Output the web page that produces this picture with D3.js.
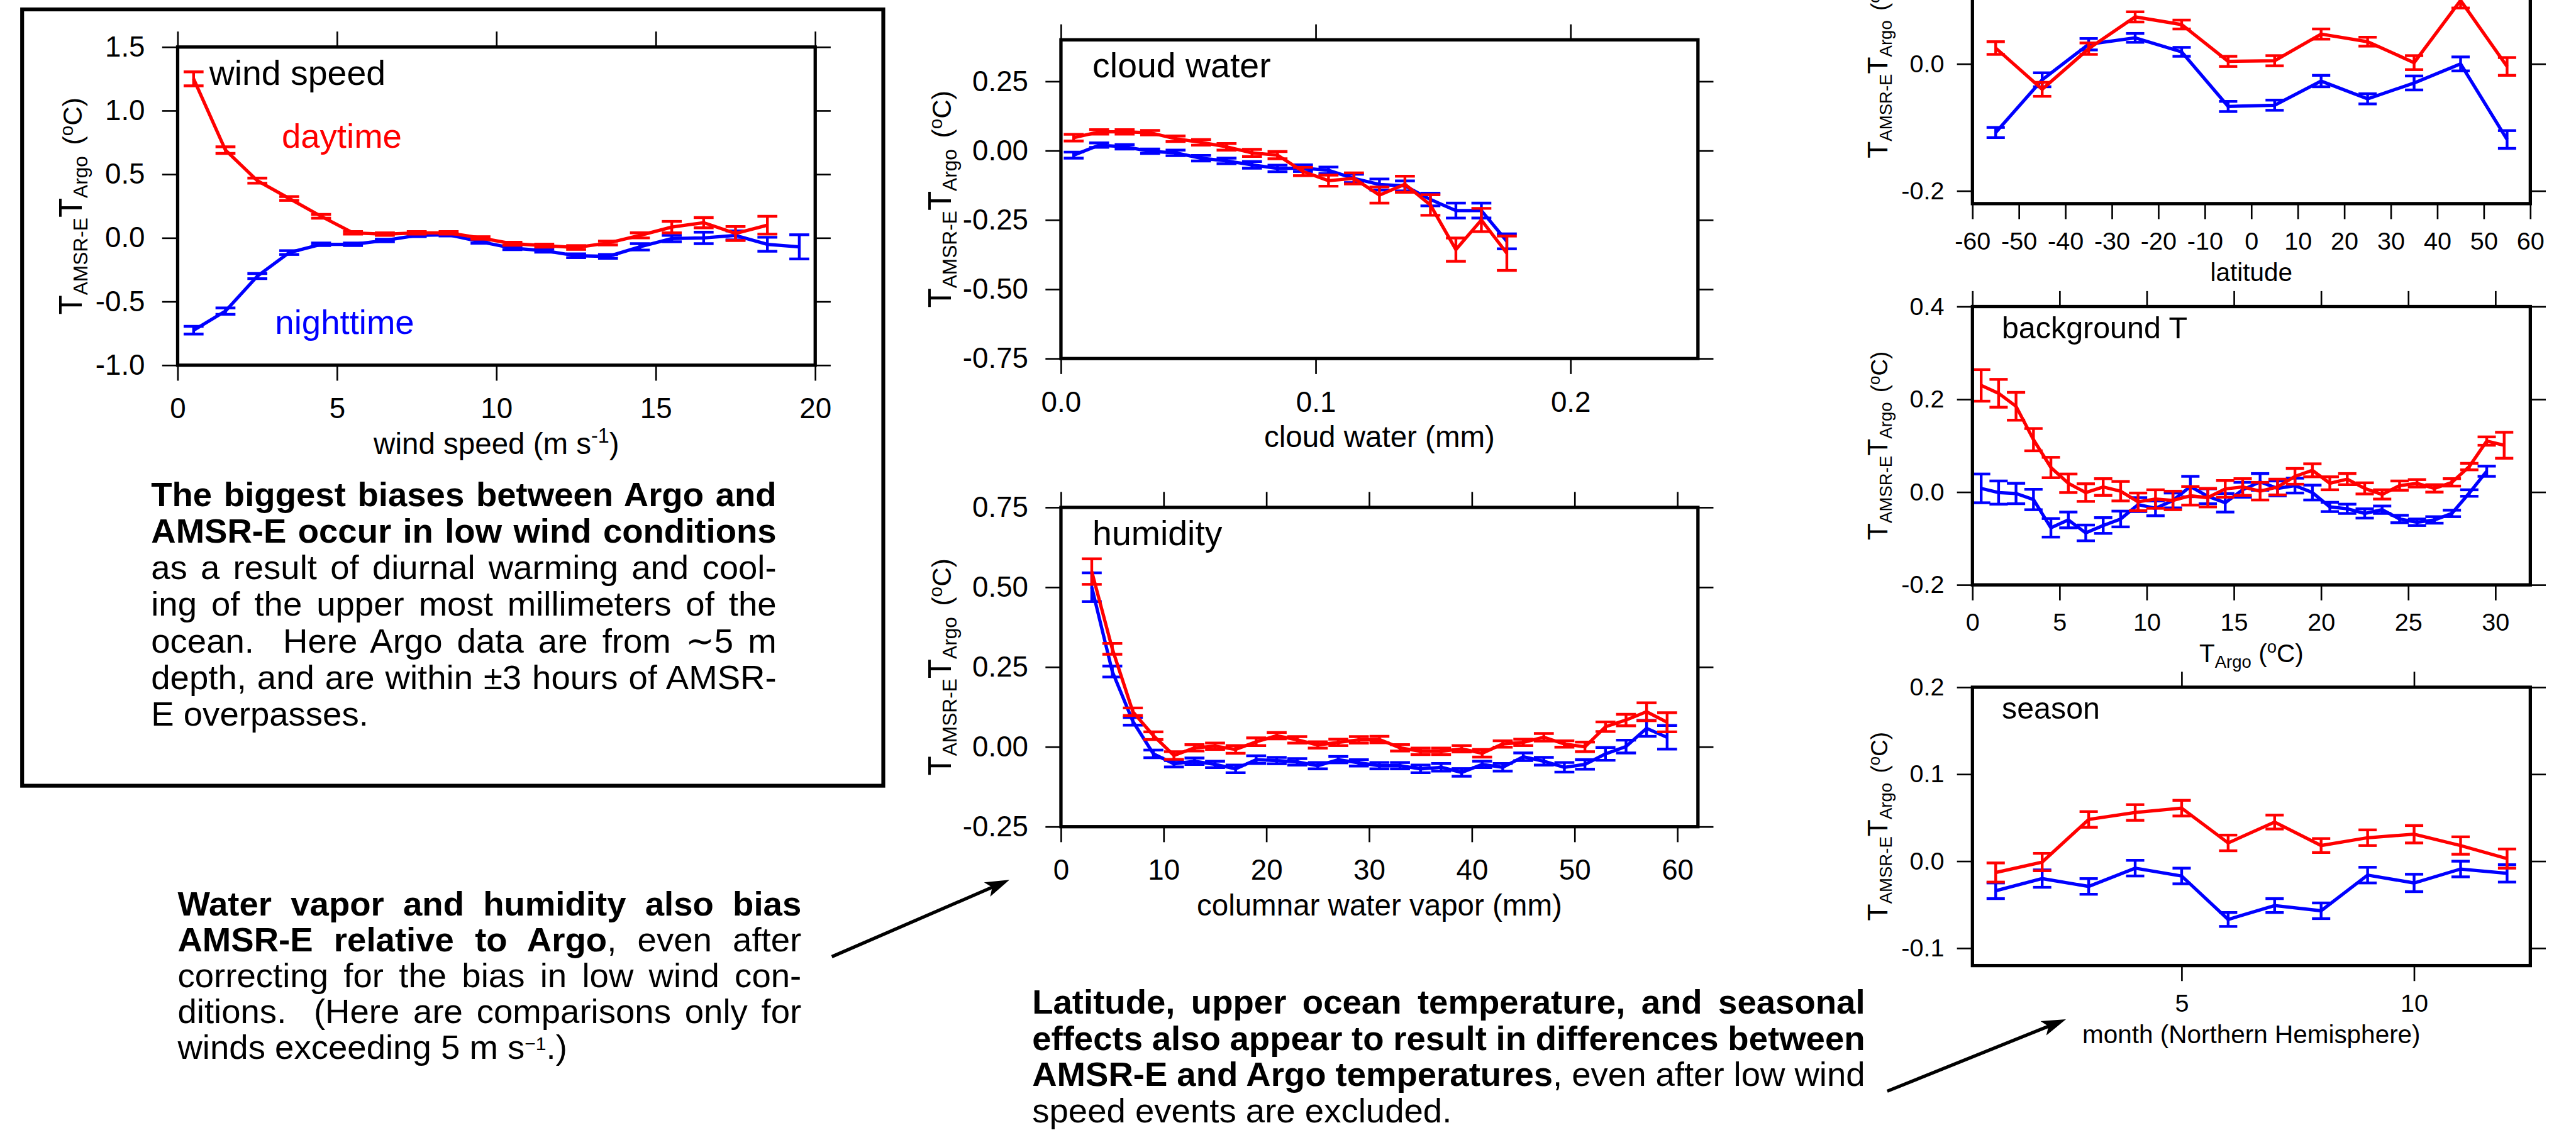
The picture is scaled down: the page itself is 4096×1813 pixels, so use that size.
<!DOCTYPE html>
<html>
<head>
<meta charset="utf-8">
<script src="https://cdn.jsdelivr.net/npm/d3@7"></script>
<style>
    body { margin: 0; background: #ffffff; }
    svg { display: block; font-family: "Liberation Sans", Arial, Helvetica, sans-serif; }
    text { white-space: pre; }
</style>
</head>
<body>
<div id="chart"></div>
<script>

// ---------- data ----------

// wind speed panel
let windX = [0.5, 1.5, 2.5, 3.5, 4.5, 5.5, 6.5, 7.5, 8.5, 9.5, 10.5, 11.5, 12.5, 13.5, 14.5, 15.5, 16.5, 17.5, 18.5, 19.5];
let windDay = [1.25, 0.69, 0.45, 0.31, 0.17, 0.04, 0.03, 0.04, 0.04, 0.0, -0.045, -0.06, -0.075, -0.04, 0.02, 0.085, 0.12, 0.035, 0.1];
let windDayErr = [0.055, 0.026, 0.02, 0.015, 0.015, 0.01, 0.01, 0.01, 0.01, 0.01, 0.012, 0.012, 0.015, 0.015, 0.02, 0.045, 0.04, 0.055, 0.07];
let windNight = [-0.725, -0.575, -0.30, -0.115, -0.05, -0.05, -0.02, 0.02, 0.025, -0.03, -0.08, -0.1, -0.14, -0.145, -0.07, -0.005, 0.0, 0.02, -0.05, -0.07];
let windNightErr = [0.03, 0.025, 0.02, 0.015, 0.01, 0.01, 0.01, 0.01, 0.01, 0.012, 0.012, 0.012, 0.015, 0.015, 0.025, 0.025, 0.045, 0.035, 0.055, 0.095];
let windXTicks = [0, 5, 10, 15, 20];
let windYTicks = [-1.0, -0.5, 0.0, 0.5, 1.0, 1.5];

// cloud water panel
let cloudX = [0.005, 0.015, 0.025, 0.035, 0.045, 0.055, 0.065, 0.075, 0.085, 0.095, 0.105, 0.115, 0.125, 0.135, 0.145, 0.155, 0.165, 0.175];
let cloudDay = [0.047, 0.068, 0.068, 0.065, 0.043, 0.03, 0.014, -0.008, -0.016, -0.075, -0.108, -0.1, -0.16, -0.121, -0.196, -0.357, -0.25, -0.37];
let cloudDayErr = [0.012, 0.008, 0.008, 0.008, 0.01, 0.01, 0.012, 0.013, 0.013, 0.015, 0.02, 0.02, 0.029, 0.029, 0.037, 0.042, 0.042, 0.062];
let cloudNight = [-0.016, 0.02, 0.014, -0.002, -0.008, -0.027, -0.037, -0.051, -0.064, -0.063, -0.071, -0.1, -0.122, -0.127, -0.176, -0.216, -0.216, -0.327];
let cloudNightErr = [0.011, 0.008, 0.008, 0.008, 0.01, 0.01, 0.01, 0.012, 0.012, 0.012, 0.012, 0.015, 0.02, 0.018, 0.023, 0.027, 0.027, 0.027];
let cloudXTicks = [0.0, 0.1, 0.2];
let cloudYTicks = [-0.75, -0.5, -0.25, 0.0, 0.25];

// humidity panel
let humX = [3, 5, 7, 9, 11, 13, 15, 17, 19, 21, 23, 25, 27, 29, 31, 33, 35, 37, 39, 41, 43, 45, 47, 49, 51, 53, 55, 57, 59];
let humDay = [0.549, 0.307, 0.11, 0.035, -0.027, -0.003, 0.002, -0.008, 0.016, 0.035, 0.022, 0.006, 0.014, 0.022, 0.023, -0.003, -0.014, -0.014, -0.006, -0.02, 0.009, 0.014, 0.03, 0.009, 0.0, 0.063, 0.084, 0.11, 0.077];
let humDayErr = [0.04, 0.017, 0.012, 0.012, 0.012, 0.01, 0.01, 0.012, 0.012, 0.01, 0.01, 0.01, 0.01, 0.01, 0.01, 0.01, 0.01, 0.01, 0.01, 0.012, 0.01, 0.01, 0.012, 0.01, 0.015, 0.015, 0.018, 0.028, 0.03];
let humNight = [0.50, 0.236, 0.08, -0.022, -0.053, -0.045, -0.055, -0.069, -0.04, -0.043, -0.047, -0.059, -0.04, -0.05, -0.059, -0.059, -0.069, -0.064, -0.08, -0.055, -0.064, -0.031, -0.045, -0.064, -0.055, -0.022, 0.001, 0.058, 0.03];
let humNightErr = [0.045, 0.017, 0.012, 0.012, 0.01, 0.01, 0.01, 0.012, 0.012, 0.01, 0.01, 0.01, 0.01, 0.01, 0.01, 0.01, 0.012, 0.012, 0.012, 0.01, 0.012, 0.012, 0.012, 0.015, 0.015, 0.02, 0.02, 0.025, 0.037];
let humXTicks = [0, 10, 20, 30, 40, 50, 60];
let humYTicks = [-0.25, 0.0, 0.25, 0.5, 0.75];

// latitude panel
let latX = [-55, -45, -35, -25, -15, -5, 5, 15, 25, 35, 45, 55];
let latDay = [0.025, -0.04, 0.024, 0.074, 0.062, 0.004, 0.005, 0.047, 0.035, 0.002, 0.1, -0.004];
let latDayErr = [0.01, 0.011, 0.009, 0.008, 0.007, 0.008, 0.008, 0.008, 0.007, 0.011, 0.012, 0.014];
let latNight = [-0.108, -0.025, 0.031, 0.041, 0.019, -0.067, -0.065, -0.027, -0.055, -0.03, 0.0, -0.119];
let latNightErr = [0.008, 0.011, 0.009, 0.007, 0.007, 0.008, 0.008, 0.009, 0.008, 0.011, 0.011, 0.014];
let latXTicks = [-60, -50, -40, -30, -20, -10, 0, 10, 20, 30, 40, 50, 60];
let latYTicks = [-0.2, 0.0, 0.2];

// background T panel
let bgX = [0.5, 1.5, 2.5, 3.5, 4.5, 5.5, 6.5, 7.5, 8.5, 9.5, 10.5, 11.5, 12.5, 13.5, 14.5, 15.5, 16.5, 17.5, 18.5, 19.5, 20.5, 21.5, 22.5, 23.5, 24.5, 25.5, 26.5, 27.5, 28.5, 29.5, 30.5];
let bgDay = [0.23, 0.213, 0.185, 0.113, 0.053, 0.019, -0.001, 0.011, 0.002, -0.021, -0.015, -0.018, -0.008, -0.012, 0.007, 0.011, 0.002, 0.011, 0.034, 0.047, 0.019, 0.028, 0.008, -0.005, 0.014, 0.019, 0.008, 0.021, 0.055, 0.11, 0.101];
let bgDayErr = [0.034, 0.03, 0.03, 0.024, 0.022, 0.02, 0.019, 0.018, 0.021, 0.019, 0.02, 0.02, 0.02, 0.02, 0.018, 0.018, 0.019, 0.017, 0.017, 0.014, 0.014, 0.012, 0.012, 0.01, 0.01, 0.008, 0.008, 0.008, 0.007, 0.009, 0.028];
let bgNight = [0.008, -0.001, -0.003, -0.016, -0.077, -0.06, -0.088, -0.072, -0.058, -0.027, -0.035, -0.018, 0.012, -0.009, -0.023, 0.005, 0.022, 0.008, 0.014, -0.001, -0.032, -0.036, -0.046, -0.038, -0.058, -0.065, -0.06, -0.046, -0.002, 0.045];
let bgNightErr = [0.031, 0.025, 0.022, 0.022, 0.02, 0.017, 0.017, 0.017, 0.017, 0.015, 0.016, 0.016, 0.022, 0.016, 0.02, 0.016, 0.018, 0.016, 0.016, 0.016, 0.01, 0.01, 0.01, 0.008, 0.008, 0.007, 0.007, 0.007, 0.007, 0.011];
let bgXTicks = [0, 5, 10, 15, 20, 25, 30];
let bgYTicks = [-0.2, 0.0, 0.2, 0.4];

// season panel
let monX = [1, 2, 3, 4, 5, 6, 7, 8, 9, 10, 11, 12];
let monDay = [-0.013, -0.001, 0.048, 0.056, 0.061, 0.021, 0.045, 0.018, 0.027, 0.031, 0.018, 0.003];
let monDayErr = [0.011, 0.01, 0.009, 0.009, 0.009, 0.009, 0.008, 0.008, 0.009, 0.01, 0.01, 0.011];
let monNight = [-0.034, -0.02, -0.029, -0.008, -0.017, -0.067, -0.051, -0.057, -0.016, -0.025, -0.009, -0.014];
let monNightErr = [0.009, 0.01, 0.009, 0.009, 0.009, 0.008, 0.008, 0.009, 0.009, 0.01, 0.009, 0.01];
let monXTicks = [5, 10];
let monYTicks = [-0.1, 0.0, 0.1, 0.2];

// ---------- setup ----------
const W = 4096, H = 1813, S = 0.88;
const RED = "#ff0000", BLUE = "#0000ff";
const FONT = '"Liberation Sans", Arial, Helvetica, sans-serif';

let svg = d3.select("#chart").append("svg")
    .attr("width", W)
    .attr("height", H);

svg.append("rect").attr("width", W).attr("height", H).attr("fill", "#fff");

// everything is laid out in the reference's 4650x2058 pixel space, then scaled
let root = svg.append("g").attr("transform", `scale(${S})`);

// arrow head marker
root.append("defs").append("marker")
    .attr("id", "arrowHead")
    .attr("markerUnits", "userSpaceOnUse")
    .attr("viewBox", "0 -16 44 32")
    .attr("markerWidth", 44)
    .attr("markerHeight", 32)
    .attr("refX", 24)
    .attr("refY", 0)
    .attr("orient", "auto")
    .append("path")
    .attr("d", "M0,-14 L44,0 L0,14 L10,0 Z")
    .attr("fill", "#000");

// rich text helper: parts = [{t, k}] where k is 'sub', 'sup' or undefined
function addParts(text, parts, fs, supShift = 0.38, supSize = 0.68) {
    let shift = 0;
    parts.forEach(p => {
        let target = p.k === 'sup' ? -supShift * fs : (p.k === 'sub' ? 0.22 * fs : 0);
        let ts = text.append("tspan")
            .attr("font-size", p.k ? fs * supSize : fs)
            .attr("dy", target - shift)
            .text(p.t);
        if (p.b) ts.attr("font-weight", "bold");
        shift = target;
    });
}

// rotated y axis title: T_AMSR-E T_Argo (oC)
function addYLabel(g, x, y, k) {
    let t = g.append("text")
        .attr("transform", `translate(${x},${y}) rotate(-90)`)
        .attr("text-anchor", "middle")
        .attr("fill", "#000");
    t.append("tspan").attr("font-size", 58 * k).text("T");
    t.append("tspan").attr("font-size", 36 * k).attr("dy", 10 * k).text("AMSR-E");
    t.append("tspan").attr("font-size", 58 * k).attr("dy", -10 * k).text("T");
    t.append("tspan").attr("font-size", 36 * k).attr("dy", 10 * k).text("Argo");
    t.append("tspan").attr("font-size", 48 * k).attr("dy", -10 * k).attr("dx", 20 * k).text("(");
    t.append("tspan").attr("font-size", 34 * k).attr("dy", -16 * k).text("o");
    t.append("tspan").attr("font-size", 48 * k).attr("dy", 16 * k).text("C)");
}

function drawSeries(g, x, y, xs, ys, errs, color, cap) {
    let pts = ys.map((v, i) => ({x: xs[i], y: v, e: errs[i]}));

    g.append("path")
        .datum(pts)
        .attr("d", d3.line().x(d => x(d.x)).y(d => y(d.y)))
        .attr("fill", "none")
        .attr("stroke", color)
        .attr("stroke-width", 6);

    let bars = g.selectAll(null).data(pts).enter().append("g")
        .attr("stroke", color)
        .attr("stroke-width", 5);

    bars.append("line")
        .attr("x1", d => x(d.x)).attr("x2", d => x(d.x))
        .attr("y1", d => y(d.y + d.e)).attr("y2", d => y(d.y - d.e));
    bars.append("line")
        .attr("x1", d => x(d.x) - cap / 2).attr("x2", d => x(d.x) + cap / 2)
        .attr("y1", d => y(d.y + d.e)).attr("y2", d => y(d.y + d.e));
    bars.append("line")
        .attr("x1", d => x(d.x) - cap / 2).attr("x2", d => x(d.x) + cap / 2)
        .attr("y1", d => y(d.y - d.e)).attr("y2", d => y(d.y - d.e));
}

function styleAxis(sel, fs) {
    sel.attr("font-family", FONT).attr("font-size", fs);
    sel.select(".domain").remove();
    sel.selectAll(".tick line").attr("stroke", "#000").attr("stroke-width", 3);
    sel.selectAll(".tick text").attr("fill", "#000");
}

function drawPanel(p) {
    let g = root.append("g").attr("class", "panel " + p.id);
    let x = d3.scaleLinear().domain(p.xDomain).range([p.x0, p.x1]);
    let y = d3.scaleLinear().domain(p.yDomain).range([p.y1, p.y0]);
    let tick = 28;

    g.append("g").attr("transform", `translate(0,${p.y1})`)
        .call(d3.axisBottom(x).tickValues(p.xTicks).tickFormat(p.xFmt).tickSize(tick).tickPadding(p.xPad))
        .call(a => styleAxis(a, p.tickFs));
    g.append("g").attr("transform", `translate(0,${p.y0})`)
        .call(d3.axisTop(x).tickValues(p.xTicks).tickFormat("").tickSize(tick))
        .call(a => styleAxis(a, p.tickFs));
    g.append("g").attr("transform", `translate(${p.x0},0)`)
        .call(d3.axisLeft(y).tickValues(p.yTicks).tickFormat(p.yFmt).tickSize(tick).tickPadding(p.yPad))
        .call(a => styleAxis(a, p.tickFs));
    g.append("g").attr("transform", `translate(${p.x1},0)`)
        .call(d3.axisRight(y).tickValues(p.yTicks).tickFormat("").tickSize(tick))
        .call(a => styleAxis(a, p.tickFs));

    drawSeries(g, x, y, p.xs, p.night, p.nightErr, BLUE, p.cap);
    drawSeries(g, x, y, p.xs, p.day, p.dayErr, RED, p.cap);

    g.append("rect")
        .attr("x", p.x0).attr("y", p.y0)
        .attr("width", p.x1 - p.x0).attr("height", p.y1 - p.y0)
        .attr("fill", "none").attr("stroke", "#000").attr("stroke-width", 6);

    // panel name
    if (p.name) {
        g.append("text")
            .attr("x", p.x0 + p.nameDx).attr("y", p.y0 + p.nameDy)
            .attr("font-size", p.nameFs).attr("fill", "#000")
            .text(p.name);
    }

    // x axis title
    let xl = g.append("text")
        .attr("x", (p.x0 + p.x1) / 2).attr("y", p.y1 + p.xLabDy)
        .attr("text-anchor", "middle").attr("fill", "#000");
    addParts(xl, p.xLabel, p.labelFs);

    addYLabel(g, p.x0 - p.yLabOff, (p.y0 + p.y1) / 2, p.yLabK);

    return {g, x, y};
}

let f1 = d => d.toFixed(1), f2 = d => d.toFixed(2), f0 = d => d;

let big = {tickFs: 52, labelFs: 54, nameFs: 63, xPad: 31, yPad: 31, xLabDy: 160, cap: 36, yLabK: 1, nameDx: 57, nameDy: 68};
let small = {tickFs: 45, labelFs: 46, nameFs: 55, xPad: 23, yPad: 23, xLabDy: 140, cap: 33, yLabK: 0.87, yLabOff: 154, nameDx: 53, nameDy: 57};

let wind = drawPanel(Object.assign({}, big, {
    id: "wind", x0: 321, x1: 1473, y0: 85, y1: 660,
    xDomain: [0, 20], yDomain: [-1, 1.5], xTicks: windXTicks, yTicks: windYTicks, xFmt: f0, yFmt: f1,
    xs: windX, day: windDay, dayErr: windDayErr, night: windNight, nightErr: windNightErr,
    name: "wind speed", yLabOff: 173,
    xLabel: [{t: "wind speed (m s"}, {t: "-1", k: "sup"}, {t: ")"}]
}));

// daytime / nighttime labels in the wind panel
wind.g.append("text").attr("x", 509).attr("y", 267).attr("font-size", 62).attr("fill", RED).text("daytime");
wind.g.append("text").attr("x", 497).attr("y", 603).attr("font-size", 62).attr("fill", BLUE).text("nighttime");

drawPanel(Object.assign({}, big, {
    id: "cloud", x0: 1917, x1: 3068, y0: 72, y1: 648,
    xDomain: [0, 0.25], yDomain: [-0.75, 0.40], xTicks: cloudXTicks, yTicks: cloudYTicks, xFmt: f1, yFmt: f2,
    xs: cloudX, day: cloudDay, dayErr: cloudDayErr, night: cloudNight, nightErr: cloudNightErr,
    name: "cloud water", yLabOff: 199,
    xLabel: [{t: "cloud water (mm)"}]
}));

drawPanel(Object.assign({}, big, {
    id: "humidity", x0: 1917, x1: 3068, y0: 917, y1: 1494,
    xDomain: [0, 62], yDomain: [-0.25, 0.75], xTicks: humXTicks, yTicks: humYTicks, xFmt: f0, yFmt: f2,
    xs: humX, day: humDay, dayErr: humDayErr, night: humNight, nightErr: humNightErr,
    name: "humidity", yLabOff: 199,
    xLabel: [{t: "columnar water vapor (mm)"}]
}));

drawPanel(Object.assign({}, small, {
    id: "latitude", x0: 3564, x1: 4572, y0: -137, y1: 368,
    xDomain: [-60, 60], yDomain: [-0.22, 0.22], xTicks: latXTicks, yTicks: latYTicks, xFmt: f0, yFmt: f1,
    xs: latX, day: latDay, dayErr: latDayErr, night: latNight, nightErr: latNightErr,
    name: null,
    xLabel: [{t: "latitude"}]
}));

drawPanel(Object.assign({}, small, {
    id: "background", x0: 3564, x1: 4572, y0: 554, y1: 1057,
    xDomain: [0, 32], yDomain: [-0.2, 0.4], xTicks: bgXTicks, yTicks: bgYTicks, xFmt: f0, yFmt: f1,
    xs: bgX, day: bgDay, dayErr: bgDayErr, night: bgNight, nightErr: bgNightErr,
    name: "background T",
    xLabel: [{t: "T"}, {t: "Argo", k: "sub"}, {t: " ("}, {t: "o", k: "sup"}, {t: "C)"}]
}));

drawPanel(Object.assign({}, small, {
    id: "season", x0: 3564, x1: 4572, y0: 1242, y1: 1745,
    xDomain: [0.5, 12.5], yDomain: [-0.12, 0.2], xTicks: monXTicks, yTicks: monYTicks, xFmt: f0, yFmt: f1,
    xs: monX, day: monDay, dayErr: monDayErr, night: monNight, nightErr: monNightErr,
    name: "season",
    xLabel: [{t: "month (Northern Hemisphere)"}]
}));

// ---------- text blocks ----------
let block1 = [
    {parts: [{t: "The biggest biases between Argo and", b: true}], j: true},
    {parts: [{t: "AMSR-E occur in low wind conditions", b: true}], j: true},
    {parts: [{t: "as a result of diurnal warming and cool-"}], j: true},
    {parts: [{t: "ing of the upper most millimeters of the"}], j: true},
    {parts: [{t: "ocean.  Here Argo data are from \u223C5 m"}], j: true},
    {parts: [{t: "depth, and are within \u00B13 hours of AMSR-"}], j: true},
    {parts: [{t: "E overpasses."}], j: false}
];
let block2 = [
    {parts: [{t: "Water vapor and humidity also bias", b: true}], j: true},
    {parts: [{t: "AMSR-E relative to Argo", b: true}, {t: ", even after"}], j: true},
    {parts: [{t: "correcting for the bias in low wind con-"}], j: true},
    {parts: [{t: "ditions.  (Here are comparisons only for"}], j: true},
    {parts: [{t: "winds exceeding 5 m s"}, {t: "\u22121", k: "sup"}, {t: ".)"}], j: false}
];
let block3 = [
    {parts: [{t: "Latitude, upper ocean temperature, and seasonal", b: true}], j: true},
    {parts: [{t: "effects also appear to result in differences between", b: true}], j: true},
    {parts: [{t: "AMSR-E and Argo temperatures", b: true}, {t: ", even after low wind"}], j: true},
    {parts: [{t: "speed events are excluded."}], j: false}
];

function drawBlock(lines, x, y0, lineH, width, fs) {
    let g = root.append("g").attr("class", "note");
    lines.forEach((line, i) => {
        let t = g.append("text")
            .attr("x", x).attr("y", y0 + i * lineH)
            .attr("font-size", fs).attr("fill", "#000");
        addParts(t, line.parts, fs, 0.26, 0.55);
        if (line.j) {
            let full = line.parts.map(p => p.t).join("");
            let spaces = (full.match(/ /g) || []).length;
            let w = t.node().getComputedTextLength();
            if (spaces > 0) t.attr("word-spacing", (width - w) / spaces);
        }
    });
}

drawBlock(block1, 273, 915, 66, 1130, 62);
drawBlock(block2, 321, 1654, 65, 1127, 62);
drawBlock(block3, 1865, 1832, 65.5, 1505, 62);

// outer box around the wind speed panel and its note
root.append("rect")
    .attr("x", 40).attr("y", 17).attr("width", 1556).attr("height", 1403)
    .attr("fill", "none").attr("stroke", "#000").attr("stroke-width", 7);

// arrows pointing from notes to panels
let arrows = [
    {from: [1503, 1729], to: [1824, 1590]},
    {from: [3410, 1972], to: [3733, 1842]}
];
arrows.forEach(a => {
    let dx = a.to[0] - a.from[0], dy = a.to[1] - a.from[1];
    let len = Math.sqrt(dx * dx + dy * dy);
    let k = (len - 20) / len;
    root.append("line")
        .attr("x1", a.from[0]).attr("y1", a.from[1])
        .attr("x2", a.from[0] + dx * k).attr("y2", a.from[1] + dy * k)
        .attr("stroke", "#000").attr("stroke-width", 6)
        .attr("marker-end", "url(#arrowHead)");
});

</script>
</body>
</html>
